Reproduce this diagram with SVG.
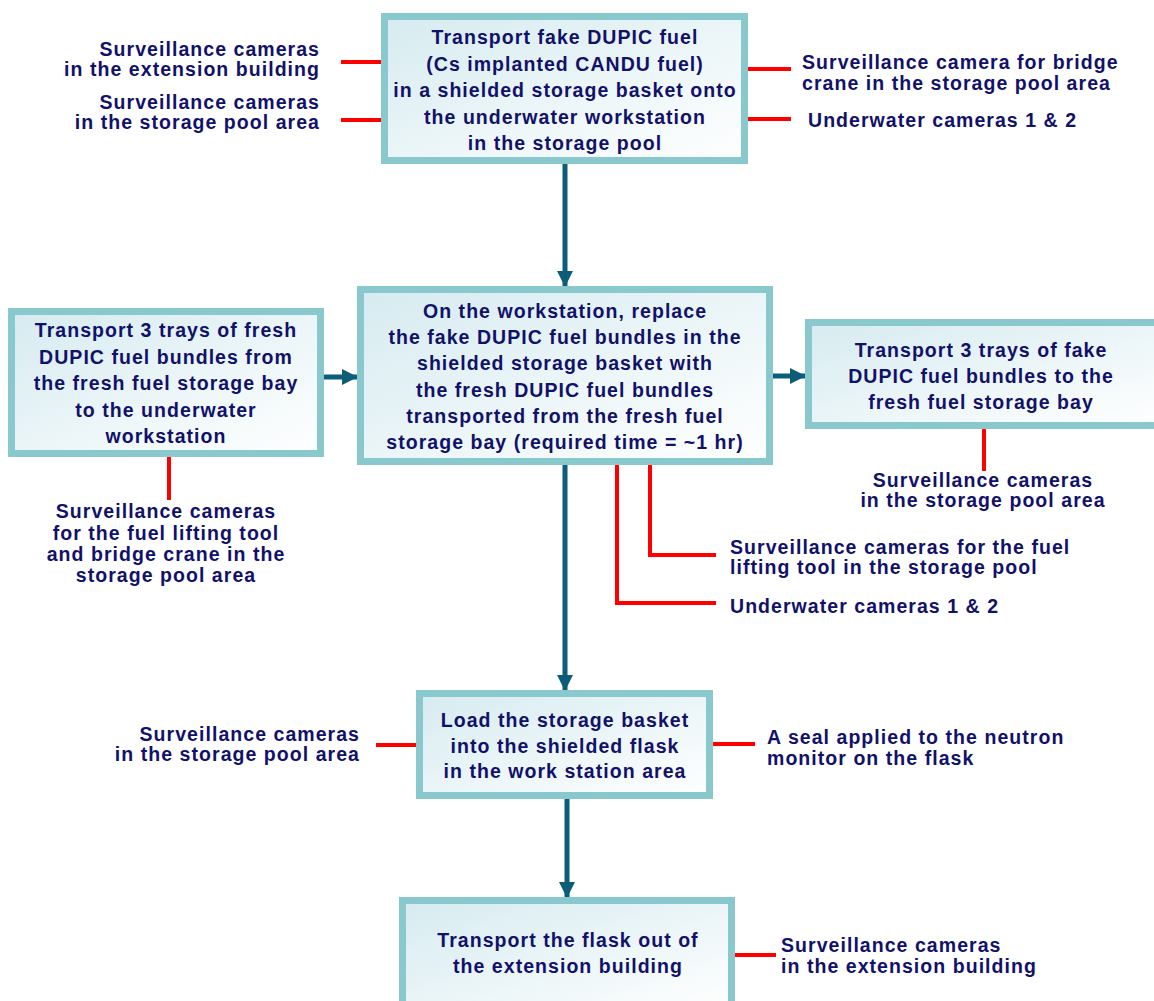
<svg xmlns="http://www.w3.org/2000/svg" width="1154" height="1001" viewBox="0 0 1154 1001">
  <defs>
    <linearGradient id="boxFill" x1="0" y1="0" x2="1" y2="1">
      <stop offset="0" stop-color="#d6ebf0"/>
      <stop offset="1" stop-color="#ffffff"/>
    </linearGradient>
    <marker id="arrowHead" markerUnits="userSpaceOnUse" markerWidth="16" markerHeight="16" refX="15" refY="8" orient="auto">
      <path d="M0,0 L16,8 L0,16 z" fill="#0b5d7a"/>
    </marker>
    <style>
      .box { fill: url(#boxFill); stroke: #89c9cd; stroke-width: 7; }
      .txt { font-family: "Liberation Sans", Arial, sans-serif; font-weight: bold; font-size: 19.5px; letter-spacing: 1.05px; fill: #11116b; }
      .mid { text-anchor: middle; }
      .end { text-anchor: end; }
      .flow { stroke: #0b5d7a; stroke-width: 5; fill: none; marker-end: url(#arrowHead); }
      .tap { stroke: #ff0000; stroke-width: 4; fill: none; }
    </style>
  </defs>
  <rect width="1154" height="1001" fill="#ffffff"/>

  <!-- flow arrows and red tap lines -->
  <g id="connectors">
    <line class="flow" x1="565" y1="164" x2="565" y2="286"/>
    <line class="flow" x1="324" y1="377" x2="357" y2="377"/>
    <line class="flow" x1="773" y1="376" x2="805" y2="376"/>
    <line class="flow" x1="565" y1="465" x2="565" y2="690"/>
    <line class="flow" x1="567" y1="799" x2="567" y2="897"/>

    <line class="tap" x1="341" y1="62" x2="381" y2="62"/>
    <line class="tap" x1="341" y1="120" x2="381" y2="120"/>
    <line class="tap" x1="748" y1="69" x2="791" y2="69"/>
    <line class="tap" x1="748" y1="119" x2="791" y2="119"/>
    <line class="tap" x1="169" y1="457" x2="169" y2="500"/>
    <line class="tap" x1="984" y1="429" x2="984" y2="471"/>
    <polyline class="tap" points="617,465 617,603 716,603"/>
    <polyline class="tap" points="650,465 650,555 716,555"/>
    <line class="tap" x1="376" y1="745" x2="416" y2="745"/>
    <line class="tap" x1="713" y1="744" x2="755" y2="744"/>
    <line class="tap" x1="735" y1="955" x2="776" y2="955"/>
  </g>

  <g id="step-transport-fake">
    <rect class="box" x="384.5" y="16.5" width="360" height="144"/>
    <text class="txt mid" x="565" y="44">Transport fake DUPIC fuel</text>
    <text class="txt mid" x="565" y="70.5">(Cs implanted CANDU fuel)</text>
    <text class="txt mid" x="565" y="97">in a shielded storage basket onto</text>
    <text class="txt mid" x="565" y="123.5">the underwater workstation</text>
    <text class="txt mid" x="565" y="150">in the storage pool</text>
  </g>

  <g id="step-transport-fresh">
    <rect class="box" x="11.5" y="311.5" width="309" height="142"/>
    <text class="txt mid" x="166" y="337">Transport 3 trays of fresh</text>
    <text class="txt mid" x="166" y="363.5">DUPIC fuel bundles  from</text>
    <text class="txt mid" x="166" y="390">the fresh fuel storage bay</text>
    <text class="txt mid" x="166" y="416.5">to the underwater</text>
    <text class="txt mid" x="166" y="443">workstation</text>
  </g>

  <g id="step-replace">
    <rect class="box" x="360.5" y="289.5" width="409" height="172"/>
    <text class="txt mid" x="565" y="318">On the workstation, replace</text>
    <text class="txt mid" x="565" y="344">the fake DUPIC fuel bundles in the</text>
    <text class="txt mid" x="565" y="370">shielded storage basket with</text>
    <text class="txt mid" x="565" y="396.5">the fresh DUPIC fuel bundles</text>
    <text class="txt mid" x="565" y="423">transported from the  fresh fuel</text>
    <text class="txt mid" x="565" y="449">storage bay (required time = ~1 hr)</text>
  </g>

  <g id="step-return-fake">
    <rect class="box" x="808.5" y="322.5" width="352" height="103"/>
    <text class="txt mid" x="981" y="357">Transport 3 trays of fake</text>
    <text class="txt mid" x="981" y="383">DUPIC fuel bundles  to the</text>
    <text class="txt mid" x="981" y="409">fresh fuel storage bay</text>
  </g>

  <g id="step-load-flask">
    <rect class="box" x="419.5" y="693.5" width="290" height="102"/>
    <text class="txt mid" x="565" y="727">Load the storage basket</text>
    <text class="txt mid" x="565" y="753">into the shielded flask</text>
    <text class="txt mid" x="565" y="778">in the work station area</text>
  </g>

  <g id="step-flask-out">
    <rect class="box" x="402.5" y="900.5" width="329" height="112"/>
    <text class="txt mid" x="568" y="947">Transport the flask out of</text>
    <text class="txt mid" x="568" y="973">the extension building</text>
  </g>

  <!-- monitoring labels -->
  <g id="label-ext-building-top">
    <text class="txt end" x="320" y="56">Surveillance cameras</text>
    <text class="txt end" x="320" y="76">in the extension building</text>
  </g>
  <g id="label-pool-top">
    <text class="txt end" x="320" y="109">Surveillance cameras</text>
    <text class="txt end" x="320" y="129">in the storage pool area</text>
  </g>
  <g id="label-bridge-crane">
    <text class="txt" x="802" y="69">Surveillance camera for bridge</text>
    <text class="txt" x="802" y="90">crane in the storage pool area</text>
  </g>
  <g id="label-underwater-top">
    <text class="txt" x="808" y="127">Underwater cameras 1 &amp; 2</text>
  </g>
  <g id="label-lifting-bridge">
    <text class="txt mid" x="166" y="518">Surveillance cameras</text>
    <text class="txt mid" x="166" y="539.5">for the fuel lifting tool</text>
    <text class="txt mid" x="166" y="561">and bridge crane in the</text>
    <text class="txt mid" x="166" y="581.5">storage pool area</text>
  </g>
  <g id="label-pool-right">
    <text class="txt mid" x="983" y="487">Surveillance cameras</text>
    <text class="txt mid" x="983" y="507">in the storage pool area</text>
  </g>
  <g id="label-lifting-tool">
    <text class="txt" x="730" y="554">Surveillance cameras for the fuel</text>
    <text class="txt" x="730" y="574">lifting tool in the storage pool</text>
  </g>
  <g id="label-underwater-mid">
    <text class="txt" x="730" y="613">Underwater cameras 1 &amp; 2</text>
  </g>
  <g id="label-pool-load">
    <text class="txt end" x="360" y="741">Surveillance cameras</text>
    <text class="txt end" x="360" y="761">in the storage pool area</text>
  </g>
  <g id="label-seal">
    <text class="txt" x="767" y="744">A seal applied to the neutron</text>
    <text class="txt" x="767" y="765">monitor on the flask</text>
  </g>
  <g id="label-ext-building-bottom">
    <text class="txt" x="781" y="952">Surveillance cameras</text>
    <text class="txt" x="781" y="973">in the extension building</text>
  </g>
</svg>
